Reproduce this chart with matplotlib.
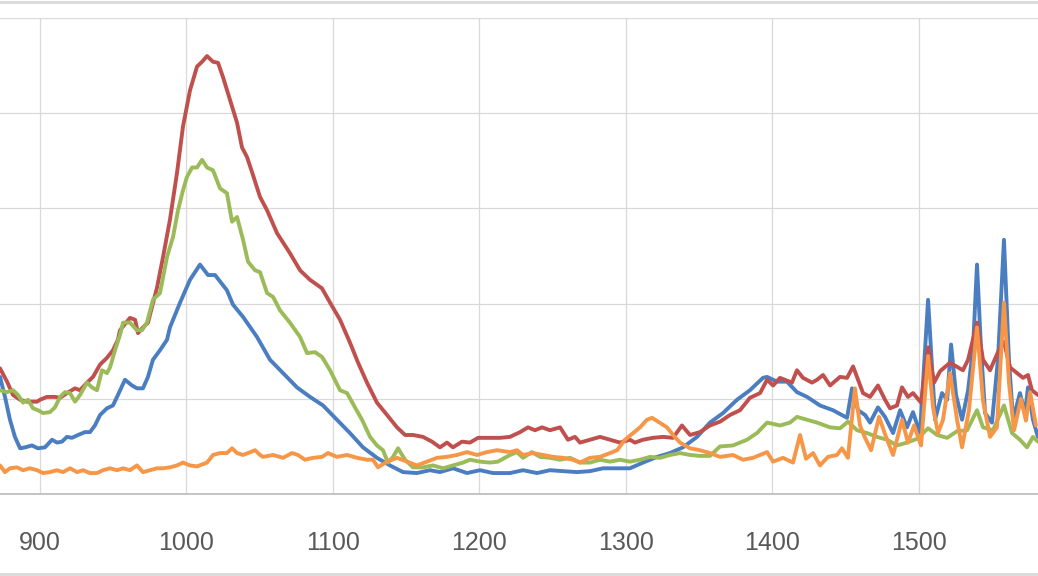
import matplotlib
matplotlib.use("Agg")
import matplotlib.pyplot as plt
from matplotlib.lines import Line2D

# ---- data (x = wavenumber, y = intensity; gridline step = 100) ----
series1_blue = [(872.7,123),(876.1,102),(879.5,78),(882.9,60),(886.4,48),(889.8,49),(894.5,51),(898.6,48),
    (903.4,49),(908.2,57),(911.6,54),(915.0,55),(918.4,60),(921.8,59),(926.0,62),(930.7,65),(934.1,65),
    (937.5,72),(941.0,83),(945.7,90),(949.8,93),(953.2,104),(958.0,120),(962.8,114),(966.2,111),(970.3,111),
    (973.7,123),(977.1,141),(981.9,151),(986.7,162),(988.7,175),(995.6,201),(1002.4,225),(1009.2,241),
    (1014.7,230),(1019.5,230),(1027.6,214),(1031.7,199),(1038.6,186),(1048.1,165),(1057.0,141),(1065.9,127),
    (1075.4,112),(1084.3,102),(1093.2,93),(1102.7,78),(1111.6,64),(1120.5,49),(1130.0,38),(1138.9,30),
    (1147.8,23),(1157.3,22),(1166.2,25),(1173.0,23),(1181.9,27),(1191.5,22),(1200.3,25),(1209.2,22),
    (1220.8,22),(1229.7,25),(1239.3,22),(1248.1,25),(1257.0,24),(1266.6,23),(1275.4,24),(1284.3,27),
    (1293.9,27),(1302.7,27),(1311.6,33),(1321.2,39),(1330.0,43),(1338.9,49),(1348.5,60),(1357.3,75),
    (1366.2,85),(1375.8,99),(1384.6,109),(1393.5,122),(1396.3,123),(1403.1,118),(1409.9,118),(1416.7,107),
    (1423.6,102),(1432.4,93),(1441.3,88),(1450.9,80),(1454.3,111),(1458.4,88),(1463.2,83),(1466.6,75),
    (1472.0,91),(1476.8,81),(1482.3,64),(1487.1,88),(1491.8,70),(1495.9,86),(1500.7,64),(1506.2,204),
    (1511.0,78),(1515.7,106),(1519.2,99),(1521.9,157),(1525.3,104),(1529.4,78),(1533.5,109),(1536.9,154),
    (1539.6,241),(1542.3,154),(1545.1,85),(1549.8,75),(1553.9,141),(1558.0,267),(1561.4,141),(1564.2,78),
    (1568.9,106),(1572.4,85),(1574.4,112),(1577.8,78),(1581.2,60)]

series2_red = [(872.7,132),(877.5,118),(881.6,104),(886.4,99),(891.1,97),(898.0,97),(900.0,99),(904.8,102),
    (910.2,102),(913.7,101),(918.4,106),(923.9,111),(927.3,109),(932.1,117),(936.2,123),(941.0,136),
    (945.7,143),(949.8,151),(953.2,162),(954.6,172),(961.4,185),(964.9,183),(966.9,169),(970.3,175),
    (973.7,180),(979.9,217),(984.0,249),(988.7,288),(993.5,337),(997.6,386),(1002.4,424),(1007.2,449),
    (1010.6,454),(1014.0,460),(1018.1,454),(1021.5,453),(1024.9,438),(1029.7,414),(1034.5,390),(1037.9,364),
    (1041.3,354),(1045.4,335),(1050.2,312),(1055.0,298),(1061.8,274),(1070.6,253),(1077.5,235),(1084.3,225),
    (1092.5,216),(1098.0,201),(1104.8,183),(1111.6,159),(1117.1,138),(1123.2,117),(1130.0,96),(1136.9,83),
    (1143.7,70),(1149.2,62),(1154.6,62),(1161.4,60),(1167.6,55),(1173.0,49),(1177.8,54),(1181.9,49),
    (1188.1,55),(1193.5,54),(1199.0,59),(1207.2,59),(1214.0,59),(1220.8,60),(1227.7,65),(1233.1,70),
    (1237.9,67),(1242.7,70),(1248.1,67),(1255.0,70),(1260.4,57),(1265.2,60),(1268.6,54),(1275.4,57),
    (1282.3,60),(1289.1,57),(1295.9,54),(1302.7,57),(1306.1,54),(1311.6,57),(1318.4,59),(1325.3,60),
    (1332.1,59),(1338.2,72),(1343.7,62),(1350.5,65),(1357.3,72),(1364.2,76),(1371.0,83),(1377.8,88),
    (1384.6,101),(1391.5,106),(1396.3,120),(1400.4,114),(1405.1,122),(1413.3,117),(1416.7,130),(1420.8,122),
    (1427.0,117),(1430.4,120),(1434.5,125),(1439.3,114),(1446.1,123),(1450.9,122),(1455.0,134),(1458.4,120),
    (1461.8,106),(1466.6,102),(1472.0,114),(1476.8,99),(1480.2,90),(1485.0,93),(1488.4,112),(1492.5,102),
    (1495.9,106),(1501.4,96),(1506.2,154),(1510.3,117),(1514.4,129),(1521.2,138),(1526.6,133),(1530.0,130),
    (1533.5,141),(1539.6,180),(1543.7,141),(1548.5,130),(1553.9,149),(1558.0,160),(1562.1,133),(1566.9,127),
    (1571.0,122),(1574.4,125),(1577.1,109),(1581.2,104)]

series3_green = [(872.7,109),(877.5,107),(881.6,109),(885.0,104),(888.4,96),(891.8,99),(895.2,90),(898.6,88),
    (902.1,85),(906.8,86),(910.2,91),(913.7,102),(917.1,107),(920.5,106),(923.9,97),(927.3,104),(932.1,117),
    (935.5,112),(938.9,109),(942.3,130),(945.7,127),(947.8,133),(951.2,151),(954.6,167),(956.7,180),
    (961.4,180),(966.2,172),(969.6,172),(973.0,180),(977.1,204),(981.9,211),(986.7,249),(990.8,270),
    (994.2,298),(997.6,319),(1000.3,333),(1003.8,343),(1007.2,343),(1010.6,351),(1014.0,343),(1018.1,340),
    (1022.9,321),(1027.6,316),(1031.1,286),(1034.5,291),(1038.6,267),(1042.0,244),(1046.8,235),(1050.2,233),
    (1055.0,211),(1059.1,207),(1063.8,193),(1070.6,180),(1077.5,165),(1082.3,148),(1087.7,149),(1092.5,144),
    (1098.0,130),(1104.8,109),(1109.6,106),(1115.0,91),(1119.8,78),(1125.3,60),(1130.0,51),(1134.1,46),
    (1137.5,33),(1141.0,39),(1144.4,48),(1149.2,36),(1154.6,28),(1161.4,28),(1168.3,30),(1175.1,27),
    (1181.9,30),(1188.7,33),(1193.5,36),(1200.3,34),(1207.2,33),(1212.6,34),(1220.8,41),(1225.6,44),
    (1229.7,38),(1235.8,44),(1241.3,39),(1248.1,38),(1255.0,36),(1261.8,38),(1268.6,33),(1275.4,33),
    (1282.3,36),(1289.1,34),(1295.9,36),(1302.7,34),(1309.6,36),(1316.4,39),(1323.2,38),(1330.0,41),
    (1336.9,43),(1343.7,41),(1350.5,40),(1357.3,40),(1364.2,50),(1373.0,51),(1382.6,57),(1389.4,64),
    (1396.3,75),(1405.1,72),(1412.0,75),(1416.7,81),(1423.6,78),(1430.4,75),(1439.3,70),(1446.1,69),
    (1451.5,76),(1457.7,67),(1464.5,64),(1471.3,60),(1478.2,57),(1485.0,51),(1491.8,54),(1498.7,58),
    (1506.2,69),(1512.3,62),(1519.2,59),(1526.0,66),(1532.8,67),(1539.6,88),(1543.7,70),(1550.5,67),
    (1558.0,93),(1563.5,64),(1568.9,57),(1573.7,49),(1577.8,60),(1581.2,55)]

series4_orange = [(872.7,30),(876.1,23),(879.5,27),(884.3,28),(888.4,25),(893.2,27),(898.0,25),(902.1,22),
    (906.8,23),(911.6,25),(915.7,23),(920.5,27),(925.3,23),(929.4,25),(934.1,22),(938.9,22),(943.0,25),
    (947.8,27),(952.6,25),(956.7,27),(961.4,25),(966.2,30),(970.3,23),(975.1,25),(979.9,27),(984.0,27),
    (988.7,28),(993.5,30),(997.6,33),(1002.4,30),(1007.2,29),(1014.0,33),(1018.1,41),(1022.9,43),(1027.6,43),
    (1031.1,48),(1034.5,43),(1038.6,41),(1042.0,43),(1046.8,46),(1050.2,41),(1052.2,39),(1059.1,41),
    (1065.9,38),(1072.0,43),(1076.1,41),(1080.9,36),(1086.4,38),(1092.5,39),(1096.6,43),(1102.7,39),
    (1109.6,41),(1116.4,38),(1123.2,36),(1127.3,36),(1130.7,28),(1136.9,34),(1143.7,38),(1150.5,34),
    (1157.3,30),(1164.2,34),(1171.0,38),(1177.8,39),(1184.6,41),(1191.5,44),(1198.3,41),(1205.1,44),
    (1212.0,46),(1220.8,44),(1225.6,46),(1229.7,41),(1236.5,43),(1243.4,41),(1250.2,39),(1257.0,38),
    (1263.8,36),(1268.6,33),(1275.4,38),(1282.3,39),(1289.1,43),(1293.9,46),(1299.3,57),(1304.8,64),
    (1309.6,70),(1314.3,78),(1317.8,80),(1321.9,76),(1328.0,70),(1332.1,62),(1336.9,54),(1343.7,48),
    (1350.5,46),(1357.3,43),(1364.2,39),(1373.0,41),(1379.9,36),(1386.7,38),(1396.3,44),(1400.4,34),
    (1407.2,38),(1414.0,33),(1418.8,62),(1422.9,37),(1427.7,43),(1432.4,30),(1437.9,39),(1444.0,41),
    (1447.4,48),(1451.5,38),(1456.3,111),(1459.7,72),(1463.2,59),(1467.3,46),(1472.7,81),(1477.5,60),
    (1482.3,41),(1488.4,78),(1492.5,54),(1496.6,72),(1501.4,51),(1506.2,145),(1509.6,91),(1513.0,64),
    (1516.4,78),(1521.2,127),(1526.0,78),(1529.4,49),(1534.1,88),(1539.6,175),(1543.7,98),(1548.5,60),
    (1553.2,70),(1558.0,201),(1561.4,117),(1564.9,67),(1569.6,100),(1573.0,77),(1575.8,107),(1579.8,72)]

x_ticks = [900, 1000, 1100, 1200, 1300, 1400, 1500, 1600]
y_grid = [0, 100, 200, 300, 400, 500]

series = [
    (series1_blue, "#4A7EC0"),
    (series2_red, "#C0504D"),
    (series3_green, "#9BBB59"),
    (series4_orange, "#F79646"),
]

# ---- figure ----
fig = plt.figure(figsize=(10.38, 5.76), dpi=100)
fig.patch.set_facecolor("white")
ax = fig.add_axes([0.0, 82 / 576, 1.0406, 476 / 576])
ax.set_xlim(872.7, 1610)
ax.set_ylim(0, 500)

for pts, col in series:
    xs = [p[0] for p in pts]
    ys = [p[1] for p in pts]
    ax.plot(xs, ys, color=col, lw=2.8, solid_joinstyle="round", solid_capstyle="round", zorder=3)

ax.set_xticks(x_ticks)
ax.set_yticks(y_grid)
ax.set_yticklabels([])
ax.grid(True, color="#D9D9D9", lw=0.9, zorder=0)
ax.set_axisbelow(True)
for s in ["top", "left", "right"]:
    ax.spines[s].set_visible(False)
ax.spines["bottom"].set_color("#BFBFBF")
ax.spines["bottom"].set_linewidth(1.3)
ax.tick_params(axis="both", length=0)
ax.tick_params(axis="x", pad=27, labelsize=18, labelcolor="#595959")
for lbl in ax.get_xticklabels():
    lbl.set_family(["Liberation Sans Narrow", "Liberation Sans", "DejaVu Sans"])

# outer chart-area border lines (top and bottom)
fig.add_artist(Line2D([0, 1], [1 - 1.5 / 576] * 2, transform=fig.transFigure, color="#D9D9D9", lw=2))
fig.add_artist(Line2D([0, 1], [2.5 / 576] * 2, transform=fig.transFigure, color="#D9D9D9", lw=2))

fig.savefig("out.png", dpi=100, facecolor="white")
